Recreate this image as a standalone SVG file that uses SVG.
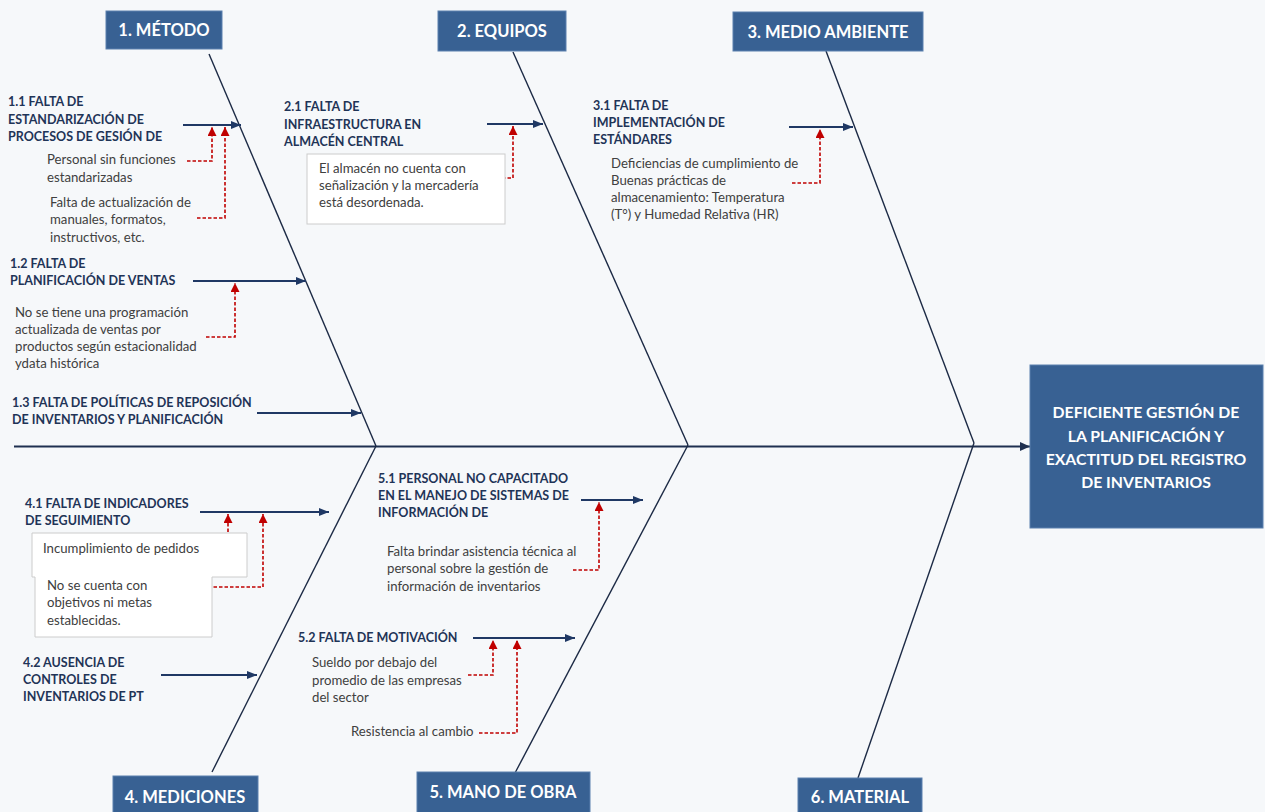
<svg xmlns="http://www.w3.org/2000/svg" width="1265" height="812" viewBox="0 0 1265 812">
  <defs>
    <style>
      .bg { fill: #f6f8fa; }
      .hdr { fill: #386193; stroke: #5b80ae; stroke-width: 1; }
      .hdr-t { font-family: Lato, "Liberation Sans", sans-serif; font-weight: 700; font-size: 16.5px; fill: #ffffff; text-anchor: middle; }
      .eff-t { font-family: Lato, "Liberation Sans", sans-serif; font-weight: 700; font-size: 15.8px; fill: #ffffff; text-anchor: middle; }
      .cause { font-family: Lato, "Liberation Sans", sans-serif; font-weight: 700; font-size: 12.5px; fill: #1f3457; }
      .sub { font-family: Lato, "Liberation Sans", sans-serif; font-size: 13.2px; fill: #404040; }
      .note { fill: #ffffff; stroke: #cccccc; stroke-width: 1; }
      .spine { stroke: #1f3050; stroke-width: 2; fill: none; }
      .bone { stroke: #1c2a45; stroke-width: 1.4; fill: none; }
      .arr { stroke: #1f3864; stroke-width: 2.2; fill: none; marker-end: url(#navyHead); }
      .dash { stroke: #c00000; stroke-width: 1.6; stroke-dasharray: 3.5 2; fill: none; marker-end: url(#redHead); }
    </style>
    <marker id="navyHead" markerUnits="userSpaceOnUse" markerWidth="10" markerHeight="8" refX="10" refY="4" orient="auto">
      <path d="M0,0 L10,4 L0,8 z" fill="#1f3864"/>
    </marker>
    <marker id="spineHead" markerUnits="userSpaceOnUse" markerWidth="10" markerHeight="9" refX="10" refY="4.5" orient="auto">
      <path d="M0,0 L10,4.5 L0,9 z" fill="#1f3050"/>
    </marker>
    <marker id="redHead" markerUnits="userSpaceOnUse" markerWidth="10" markerHeight="9" refX="9" refY="4.5" orient="auto">
      <path d="M0,0 L9,4.5 L0,9 z" fill="#c00000"/>
    </marker>
  </defs>

  <rect class="bg" x="0" y="0" width="1265" height="812"/>

  <!-- skeleton: spine and category bones -->
  <g id="connectors">
    <line class="spine" x1="14" y1="446.5" x2="1030" y2="446.5" marker-end="url(#spineHead)"/>
    <line class="bone" x1="209" y1="54" x2="376" y2="446"/>
    <line class="bone" x1="376" y1="446" x2="212" y2="772"/>
    <line class="bone" x1="513" y1="52" x2="688" y2="445"/>
    <line class="bone" x1="688" y1="445" x2="515" y2="773"/>
    <line class="bone" x1="826" y1="51" x2="974" y2="443"/>
    <line class="bone" x1="974" y1="443" x2="858" y2="778"/>

    <!-- cause arrows -->
    <line class="arr" x1="183" y1="125" x2="241" y2="125"/>
    <line class="arr" x1="193" y1="281" x2="306" y2="281"/>
    <line class="arr" x1="257" y1="413" x2="361" y2="413"/>
    <line class="arr" x1="487" y1="124" x2="543" y2="124"/>
    <line class="arr" x1="789" y1="127" x2="853" y2="127"/>
    <line class="arr" x1="200" y1="512" x2="329" y2="512"/>
    <line class="arr" x1="161" y1="675" x2="257" y2="675"/>
    <line class="arr" x1="581" y1="500" x2="643" y2="500"/>
    <line class="arr" x1="473" y1="638" x2="575" y2="638"/>

    <!-- sub-cause links -->
    <path class="dash" d="M187,161 H212 V127"/>
    <path class="dash" d="M197,218 H225 V127"/>
    <path class="dash" d="M206,337 H235 V283"/>
    <path class="dash" d="M491,178 H513 V126"/>
    <path class="dash" d="M792,183 H820 V129"/>
    <path class="dash" d="M201,549 H228 V514"/>
    <path class="dash" d="M208,587 H263 V514"/>
    <path class="dash" d="M573,570 H599 V502"/>
    <path class="dash" d="M468,675 H493 V640"/>
    <path class="dash" d="M479,733 H517 V640"/>
  </g>

  <!-- category headers -->
  <g id="metodo">
    <rect class="hdr" x="106" y="11" width="116" height="38"/>
    <text class="hdr-t" x="164" y="36">1. MÉTODO</text>
  </g>
  <g id="equipos">
    <rect class="hdr" x="438" y="11" width="128" height="40"/>
    <text class="hdr-t" x="502" y="37">2. EQUIPOS</text>
  </g>
  <g id="medio-ambiente">
    <rect class="hdr" x="733" y="12" width="190" height="39"/>
    <text class="hdr-t" x="828" y="38">3. MEDIO AMBIENTE</text>
  </g>
  <g id="mediciones">
    <rect class="hdr" x="113" y="776" width="145" height="40"/>
    <text class="hdr-t" x="185" y="803">4. MEDICIONES</text>
  </g>
  <g id="mano-de-obra">
    <rect class="hdr" x="417" y="772" width="173" height="44"/>
    <text class="hdr-t" x="503" y="798">5. MANO DE OBRA</text>
  </g>
  <g id="material">
    <rect class="hdr" x="798" y="778" width="124" height="38"/>
    <text class="hdr-t" x="860" y="803">6. MATERIAL</text>
  </g>

  <!-- effect -->
  <g id="efecto">
    <rect class="hdr" x="1030" y="365" width="233" height="163"/>
    <text class="eff-t" x="1146" y="418">DEFICIENTE GESTIÓN DE</text>
    <text class="eff-t" x="1146" y="442">LA PLANIFICACIÓN Y</text>
    <text class="eff-t" x="1146" y="465">EXACTITUD DEL REGISTRO</text>
    <text class="eff-t" x="1146" y="488">DE INVENTARIOS</text>
  </g>

  <!-- 1. Método causes -->
  <g id="causa-1-1">
    <text class="cause" x="8" y="106">1.1 FALTA DE</text>
    <text class="cause" x="8" y="124">ESTANDARIZACIÓN DE</text>
    <text class="cause" x="8" y="141">PROCESOS DE GESIÓN DE</text>
    <text class="sub" x="47" y="164">Personal sin funciones</text>
    <text class="sub" x="47" y="182">estandarizadas</text>
    <text class="sub" x="50" y="207">Falta de actualización de</text>
    <text class="sub" x="50" y="224">manuales, formatos,</text>
    <text class="sub" x="50" y="242">instructivos, etc.</text>
  </g>
  <g id="causa-1-2">
    <text class="cause" x="10" y="268">1.2 FALTA DE</text>
    <text class="cause" x="10" y="285">PLANIFICACIÓN DE VENTAS</text>
    <text class="sub" x="15" y="317">No se tiene una programación</text>
    <text class="sub" x="15" y="334">actualizada de ventas por</text>
    <text class="sub" x="15" y="351">productos según estacionalidad</text>
    <text class="sub" x="15" y="368">ydata histórica</text>
  </g>
  <g id="causa-1-3">
    <text class="cause" x="12" y="407">1.3 FALTA DE POLÍTICAS DE REPOSICIÓN</text>
    <text class="cause" x="12" y="424">DE INVENTARIOS Y PLANIFICACIÓN</text>
  </g>

  <!-- 2. Equipos causes -->
  <g id="causa-2-1">
    <text class="cause" x="284" y="111">2.1 FALTA DE</text>
    <text class="cause" x="284" y="129">INFRAESTRUCTURA EN</text>
    <text class="cause" x="284" y="146">ALMACÉN CENTRAL</text>
    <rect class="note" x="307" y="154" width="198" height="70"/>
    <text class="sub" x="319" y="173">El almacén no cuenta con</text>
    <text class="sub" x="319" y="190">señalización y la mercadería</text>
    <text class="sub" x="319" y="207">está desordenada.</text>
  </g>

  <!-- 3. Medio ambiente causes -->
  <g id="causa-3-1">
    <text class="cause" x="593" y="110">3.1 FALTA DE</text>
    <text class="cause" x="593" y="127">IMPLEMENTACIÓN DE</text>
    <text class="cause" x="593" y="144">ESTÁNDARES</text>
    <text class="sub" x="611" y="168">Deficiencias de cumplimiento de</text>
    <text class="sub" x="611" y="185">Buenas prácticas de</text>
    <text class="sub" x="611" y="202">almacenamiento: Temperatura</text>
    <text class="sub" x="611" y="219">(T°) y Humedad Relativa (HR)</text>
  </g>

  <!-- 4. Mediciones causes -->
  <g id="causa-4-1">
    <text class="cause" x="25" y="508">4.1 FALTA DE INDICADORES</text>
    <text class="cause" x="25" y="525">DE SEGUIMIENTO</text>
    <path class="note" d="M32,533 H247 V577 H212 V637 H35 V577 H32 Z"/>
    <text class="sub" x="43" y="553">Incumplimiento de pedidos</text>
    <text class="sub" x="47" y="590">No se cuenta con</text>
    <text class="sub" x="47" y="607">objetivos ni metas</text>
    <text class="sub" x="47" y="625">establecidas.</text>
  </g>
  <g id="causa-4-2">
    <text class="cause" x="23" y="667">4.2 AUSENCIA DE</text>
    <text class="cause" x="23" y="684">CONTROLES DE</text>
    <text class="cause" x="23" y="701">INVENTARIOS DE PT</text>
  </g>

  <!-- 5. Mano de obra causes -->
  <g id="causa-5-1">
    <text class="cause" x="378" y="483">5.1 PERSONAL NO CAPACITADO</text>
    <text class="cause" x="378" y="500">EN EL MANEJO DE SISTEMAS DE</text>
    <text class="cause" x="378" y="517">INFORMACIÓN DE</text>
    <text class="sub" x="387" y="556">Falta brindar asistencia técnica al</text>
    <text class="sub" x="387" y="573">personal sobre la gestión de</text>
    <text class="sub" x="387" y="591">información de inventarios</text>
  </g>
  <g id="causa-5-2">
    <text class="cause" x="298" y="642">5.2 FALTA DE MOTIVACIÓN</text>
    <text class="sub" x="312" y="667">Sueldo por debajo del</text>
    <text class="sub" x="312" y="685">promedio de las empresas</text>
    <text class="sub" x="312" y="702">del sector</text>
    <text class="sub" x="351" y="736">Resistencia al cambio</text>
  </g>
</svg>
